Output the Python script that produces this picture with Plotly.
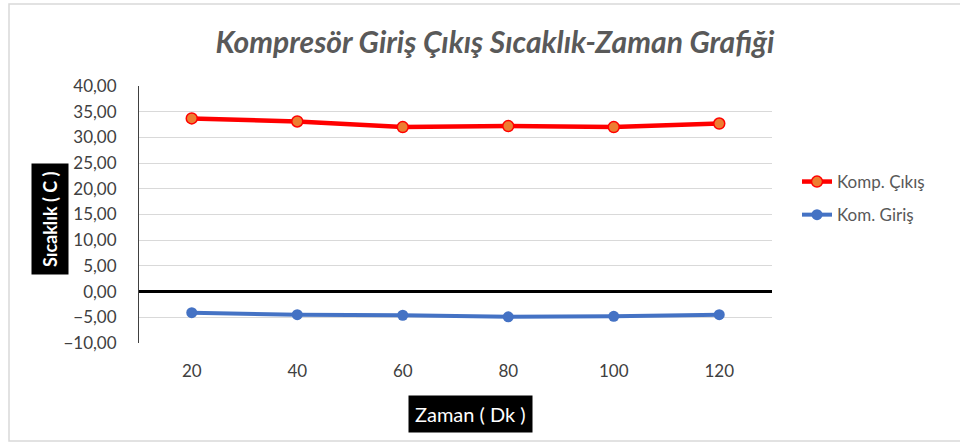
import plotly.graph_objects as go

# Measurement times (minutes) and compressor temperatures (°C)
zaman = [20, 40, 60, 80, 100, 120]
komp_cikis = [33.7, 33.1, 32.0, 32.2, 32.0, 32.7]
kom_giris = [-4.1, -4.5, -4.6, -4.9, -4.8, -4.5]
y_ticks = [-10, -5, 0, 5, 10, 15, 20, 25, 30, 35, 40]

W, H = 960, 443
L, R, T, B = 139, 188, 86, 100
pw, ph = W - L - R, H - T - B

FONT = "Lato"
TXT = "#404040"

fig = go.Figure()
fig.add_trace(go.Scatter(
    x=zaman, y=komp_cikis, name="Komp. Çıkış", mode="lines+markers",
    legendgroup="cikis",
    line=dict(color="#ff0000", width=4.5),
    marker=dict(size=11, color="#ed7d31", line=dict(color="#ff0000", width=1.5)),
))
fig.add_trace(go.Scatter(
    x=zaman, y=kom_giris, name="Kom. Giriş", mode="lines+markers",
    legendgroup="giris",
    line=dict(color="#4472c4", width=4),
    marker=dict(size=11, color="#4472c4"),
))


def px_x(p):
    return (p - L) / pw


def px_y(p):
    return (H - B - p) / ph


fig.update_layout(
    width=W, height=H,
    margin=dict(l=L, r=R, t=T, b=B),
    paper_bgcolor="white", plot_bgcolor="white",
    separators=",.",
    font=dict(family=FONT, color=TXT, size=17),
    title=dict(
        text="<b><i>Kompresör Giriş Çıkış Sıcaklık-Zaman Grafiği</i></b>",
        x=px_x(495), xanchor="center", xref="paper",
        y=1 - 42 / H, yanchor="middle",
        font=dict(family=FONT, size=30, color="#595959"),
    ),
    xaxis=dict(
        range=[10, 130], tickvals=zaman, ticktext=[str(v) for v in zaman],
        showgrid=False, zeroline=False, showline=False, ticks="",
        ticklabelstandoff=16, tickfont=dict(size=17, color=TXT),
    ),
    yaxis=dict(
        range=[-10, 40], tickvals=y_ticks, tickformat=".2f",
        showgrid=True, gridcolor="#d9d9d9", gridwidth=1,
        zeroline=True, zerolinecolor="black", zerolinewidth=2.5,
        showline=True, linecolor="#404040", linewidth=1,
        ticks="", ticklabelstandoff=18, tickfont=dict(size=17, color=TXT),
    ),
    legend=dict(
        x=px_x(797), xanchor="left", y=px_y(164), yanchor="top",
        font=dict(size=17, color="#595959"), bgcolor="rgba(0,0,0,0)",
        traceorder="grouped", tracegroupgap=8, itemwidth=30,
    ),
    showlegend=True,
)

# Axis titles drawn as boxed labels
fig.add_annotation(
    text="<b>Sıcaklık ( C )</b>", textangle=-90,
    x=px_x(50), y=px_y(219), xref="paper", yref="paper",
    xanchor="center", yanchor="middle",
    showarrow=False, bgcolor="black", borderpad=7,
    font=dict(family=FONT, size=18, color="white"),
)
fig.add_annotation(
    text="Zaman ( Dk )",
    x=px_x(470), y=px_y(414), xref="paper", yref="paper",
    xanchor="center", yanchor="middle",
    showarrow=False, bgcolor="black", borderpad=6,
    font=dict(family=FONT, size=20, color="white"),
)

# Chart-area frame
fig.add_shape(
    type="rect", xref="paper", yref="paper",
    x0=px_x(9), x1=px_x(965), y0=px_y(441), y1=px_y(4),
    line=dict(color="#d9d9d9", width=1.5), layer="below",
)

fig.write_html("out.html")
